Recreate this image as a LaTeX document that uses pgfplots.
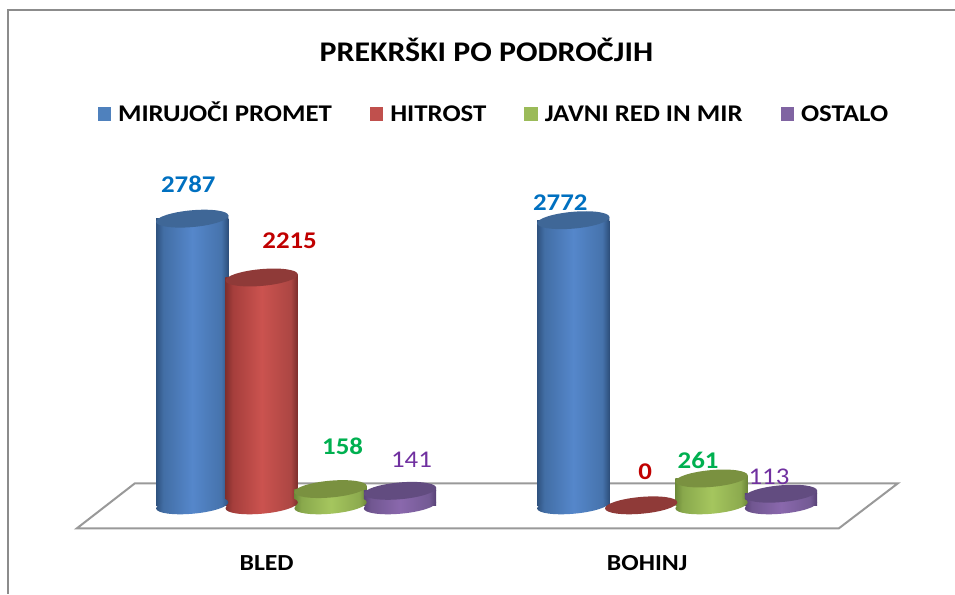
\documentclass[border=0pt]{standalone}
\usepackage{pgfplots}
\pgfplotsset{compat=1.18}
\usepackage{fontspec}
\setmainfont[FakeStretch=1.12]{Carlito}
\definecolor{legblue}{HTML}{4F81BD}
\definecolor{legred}{HTML}{C0504D}
\definecolor{leggreen}{HTML}{9BBB59}
\definecolor{legpurple}{HTML}{8064A2}
\definecolor{topblue}{HTML}{3F6797}
\definecolor{topred}{HTML}{8F3A38}
\definecolor{topgreen}{HTML}{7A9140}
\definecolor{toppurple}{HTML}{624C80}
\definecolor{lblblue}{HTML}{0070C0}
\definecolor{lblred}{HTML}{C00000}
\definecolor{lblgreen}{HTML}{00B050}
\definecolor{lblpurple}{HTML}{7030A0}
\pgfdeclarehorizontalshading{cylblue}{100bp}{rgb(0bp)=(0.184,0.322,0.498); rgb(25bp)=(0.184,0.322,0.498); rgb(30bp)=(0.259,0.431,0.647); rgb(50bp)=(0.333,0.529,0.796); rgb(70bp)=(0.275,0.451,0.675); rgb(75bp)=(0.176,0.306,0.478); rgb(100bp)=(0.176,0.306,0.478)}
\pgfdeclarehorizontalshading{cylred}{100bp}{rgb(0bp)=(0.498,0.184,0.176); rgb(25bp)=(0.498,0.184,0.176); rgb(30bp)=(0.647,0.243,0.235); rgb(50bp)=(0.796,0.325,0.310); rgb(70bp)=(0.675,0.275,0.263); rgb(75bp)=(0.478,0.176,0.169); rgb(100bp)=(0.478,0.176,0.169)}
\pgfdeclarehorizontalshading{cylgreen}{100bp}{rgb(0bp)=(0.427,0.541,0.220); rgb(25bp)=(0.427,0.541,0.220); rgb(30bp)=(0.537,0.659,0.298); rgb(50bp)=(0.647,0.776,0.369); rgb(70bp)=(0.549,0.667,0.306); rgb(75bp)=(0.412,0.518,0.212); rgb(100bp)=(0.412,0.518,0.212)}
\pgfdeclarehorizontalshading{cylpurple}{100bp}{rgb(0bp)=(0.353,0.263,0.475); rgb(25bp)=(0.353,0.263,0.475); rgb(30bp)=(0.443,0.341,0.569); rgb(50bp)=(0.541,0.408,0.678); rgb(70bp)=(0.451,0.353,0.580); rgb(75bp)=(0.337,0.251,0.455); rgb(100bp)=(0.337,0.251,0.455)}
\newcommand{\ellpath}{\pgfpathellipse{\pgfpointorigin}{\pgfpoint{36.2pt}{3.2pt}}{\pgfpoint{-0.73pt}{8.37pt}}}
\newcommand{\wedgepath}{\pgfpathmoveto{\pgfpoint{-36.25pt}{0pt}}\pgfpathlineto{\pgfpoint{36.25pt}{0pt}}\pgfpathlineto{\pgfpoint{36.25pt}{3.2pt}}\pgfpathclose}
\pgfdeclareplotmark{baseblue}{\ellpath\pgfshadepath{cylblue}{0}\pgfusepath{discard}}
\pgfdeclareplotmark{basered}{\ellpath\pgfshadepath{cylred}{0}\pgfusepath{discard}}
\pgfdeclareplotmark{basegreen}{\ellpath\pgfshadepath{cylgreen}{0}\pgfusepath{discard}}
\pgfdeclareplotmark{basepurple}{\ellpath\pgfshadepath{cylpurple}{0}\pgfusepath{discard}}
\pgfdeclareplotmark{wedgeblue}{\wedgepath\pgfshadepath{cylblue}{0}\pgfusepath{discard}}
\pgfdeclareplotmark{wedgered}{\wedgepath\pgfshadepath{cylred}{0}\pgfusepath{discard}}
\pgfdeclareplotmark{wedgegreen}{\wedgepath\pgfshadepath{cylgreen}{0}\pgfusepath{discard}}
\pgfdeclareplotmark{wedgepurple}{\wedgepath\pgfshadepath{cylpurple}{0}\pgfusepath{discard}}
\pgfdeclareplotmark{topell}{\ellpath\pgfusepathqfill}
\pgfplotsset{
 body/.style={ybar, bar width=72.5pt, bar shift=0pt, draw=none, shade, shading=#1},
 capmark/.style={forget plot, only marks, mark=topell, mark options={fill=#1, draw=none, solid}},
 basemark/.style={forget plot, only marks, mark=#1},
 legsq/.style={legend image code/.code={\pgfsetfillcolor{#1}\pgfpathrectangle{\pgfpoint{0pt}{-7pt}}{\pgfpoint{13.5pt}{14pt}}\pgfusepathqfill}},
}
\begin{document}
\begin{tikzpicture}
\begin{axis}[
 scale only axis, width=955pt, height=545pt,
 xmin=0, xmax=955, ymin=-378.64, ymax=4912.62,
 clip=false,
 axis line style={draw=none}, tick style={draw=none},
 ymajorticks=false,
 xtick={267,648}, xticklabels={BLED,BOHINJ},
 xticklabel style={font=\fontsize{23}{23}\selectfont\bfseries, anchor=center, yshift=-19pt, text=black},
 title={PREKRŠKI PO PODROČJIH},
 title style={at={(axis description cs:0.51,0.8973)}, anchor=center, font=\fontsize{28.5}{28.5}\selectfont\bfseries},
 legend columns=4,
 legend cell align=left,
 legend style={at={(axis description cs:0.5178,0.7908)}, anchor=center, draw=none, fill=none,
   inner sep=0pt, font=\fontsize{24}{24}\selectfont\bfseries,
   nodes={text height=16pt, text depth=0pt},
   /tikz/every even column/.append style={column sep=36pt},
   /tikz/every odd column/.append style={column sep=5pt}},
]
% page extent and frame
\path (axis cs:0,-854.37) rectangle (axis cs:955,4912.62);
\addplot[forget plot, draw=black!45, line width=2.5pt, line cap=rect] coordinates {(8,-854.37)(8,4815.5)(955,4815.5)};
% floor
\addplot[forget plot, draw=black!40, line width=2pt, fill=white, line join=miter] coordinates {(135,213.6)(899,213.6)(840,-223.3)(77,-223.3)} -- cycle;
% blue
\addplot[basemark=baseblue] coordinates {(192.5,0)(574,0)};
\addplot[body=cylblue, legsq=legblue] coordinates {(192.5,2787)};
\addlegendentry{MIRUJOČI PROMET}
\addplot[body=cylblue, forget plot] coordinates {(574,2772)};
\addplot[basemark=wedgeblue] coordinates {(192.5,2787)(574,2772)};
\addplot[capmark=topblue] coordinates {(192.5,2787)(574,2772)};
% red
\addplot[basemark=basered] coordinates {(262,0)};
\addplot[body=cylred, legsq=legred] coordinates {(262,2215)};
\addlegendentry{HITROST}
\addplot[basemark=wedgered] coordinates {(262,2215)};
\addplot[capmark=topred] coordinates {(262,2215)(642,0)};
% green
\addplot[basemark=basegreen] coordinates {(331,0)(712.5,0)};
\addplot[body=cylgreen, legsq=leggreen] coordinates {(331,158)};
\addlegendentry{JAVNI RED IN MIR}
\addplot[body=cylgreen, forget plot] coordinates {(712.5,261)};
\addplot[basemark=wedgegreen] coordinates {(331,158)(712.5,261)};
\addplot[capmark=topgreen] coordinates {(331,158)(712.5,261)};
% purple
\addplot[basemark=basepurple] coordinates {(400.5,0)(782,0)};
\addplot[body=cylpurple, legsq=legpurple] coordinates {(400.5,141)};
\addlegendentry{OSTALO}
\addplot[body=cylpurple, forget plot] coordinates {(782,113)};
\addplot[basemark=wedgepurple] coordinates {(400.5,141)(782,113)};
\addplot[capmark=toppurple] coordinates {(400.5,141)(782,113)};
% value labels
\tikzset{vl/.style={font=\fontsize{24}{24}\selectfont\bfseries, anchor=center, inner sep=0pt}}
\node[vl, text=lblblue] at (axis cs:188.5,2787) [yshift=34pt] {2787};
\node[vl, text=lblred] at (axis cs:290,2215) [yshift=36.5pt] {2215};
\node[vl, text=lblgreen] at (axis cs:343,158) [yshift=42.5pt] {158};
\node[vl, text=lblpurple, font=\fontsize{24}{24}\selectfont] at (axis cs:412,141) [yshift=31pt] {141};
\node[vl, text=lblblue] at (axis cs:561,2772) [yshift=18pt] {2772};
\node[vl, text=lblred] at (axis cs:646,0) [yshift=34pt] {0};
\node[vl, text=lblgreen] at (axis cs:699,261) [yshift=18pt] {261};
\node[vl, text=lblpurple, font=\fontsize{24}{24}\selectfont] at (axis cs:770,113) [yshift=17pt] {113};
\end{axis}
\end{tikzpicture}
\end{document}
